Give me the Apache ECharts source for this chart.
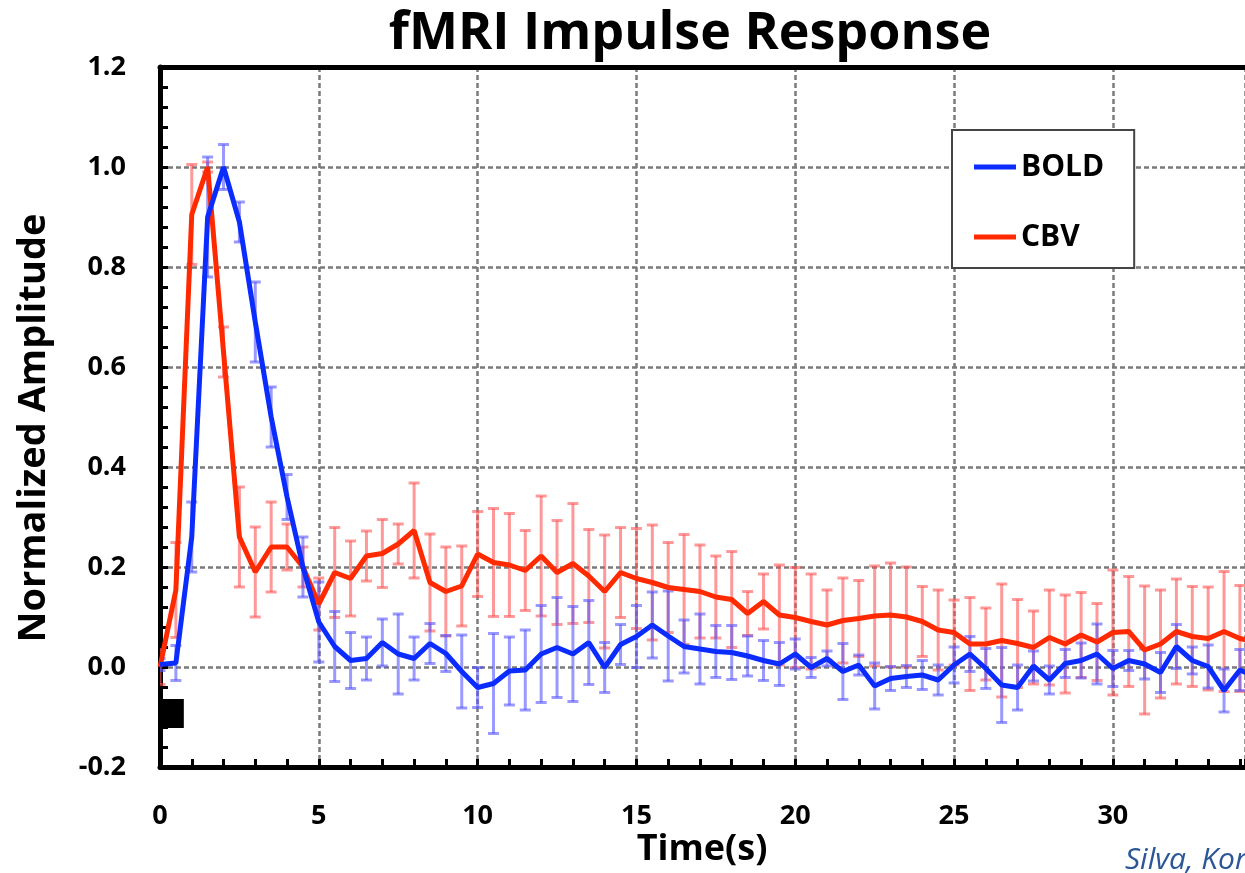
<!DOCTYPE html>
<html>
<head>
<meta charset="utf-8">
<script src="https://cdn.jsdelivr.net/npm/echarts@6/dist/echarts.min.js"></script>
<style>
html,body{margin:0;padding:0;background:#fff;}
#chart{width:1245px;height:873px;}
</style>
</head>
<body>
<div id="chart"></div>
<script>
// ---- data ----
const timeS = [0,0.5,1,1.5,2,2.5,3,3.5,4,4.5,5,5.5,6,6.5,7,7.5,8,8.5,9,9.5,10,10.5,11,11.5,12,12.5,13,13.5,14,14.5,15,15.5,16,16.5,17,17.5,18,18.5,19,19.5,20,20.5,21,21.5,22,22.5,23,23.5,24,24.5,25,25.5,26,26.5,27,27.5,28,28.5,29,29.5,30,30.5,31,31.5,32,32.5,33,33.5,34,34.5];

const boldMean = [0.005,0.008,0.26,0.90,1.00,0.89,0.69,0.50,0.34,0.20,0.09,0.041,0.013,0.017,0.049,0.026,0.017,0.047,0.027,-0.009,-0.041,-0.033,-0.008,-0.006,0.026,0.039,0.026,0.049,-0.001,0.045,0.061,0.084,0.062,0.041,0.036,0.031,0.029,0.022,0.013,0.006,0.026,-0.001,0.017,-0.009,0.004,-0.038,-0.023,-0.019,-0.016,-0.026,0.004,0.026,-0.003,-0.036,-0.041,0.002,-0.026,0.007,0.013,0.026,-0.003,0.013,0.006,-0.011,0.041,0.013,0.001,-0.047,-0.006,-0.02];

const boldErr = [0.012,0.035,0.07,0.12,0.045,0.04,0.08,0.06,0.045,0.06,0.08,0.07,0.056,0.043,0.047,0.08,0.043,0.04,0.036,0.073,0.04,0.1,0.068,0.08,0.097,0.1,0.095,0.084,0.05,0.04,0.062,0.066,0.09,0.053,0.07,0.052,0.054,0.04,0.04,0.043,0.03,0.02,0.015,0.056,0.02,0.046,0.024,0.022,0.029,0.03,0.036,0.035,0.04,0.075,0.045,0.03,0.028,0.028,0.035,0.06,0.036,0.02,0.03,0.04,0.044,0.027,0.043,0.043,0.041,0.04];

const cbvMean = [0.0,0.154,0.905,1.0,0.63,0.26,0.19,0.24,0.24,0.2,0.126,0.189,0.177,0.222,0.227,0.246,0.273,0.169,0.151,0.162,0.226,0.209,0.204,0.193,0.222,0.189,0.207,0.182,0.151,0.189,0.177,0.169,0.159,0.155,0.151,0.14,0.135,0.107,0.131,0.104,0.099,0.091,0.084,0.093,0.097,0.102,0.104,0.1,0.091,0.074,0.069,0.046,0.046,0.053,0.047,0.039,0.059,0.046,0.064,0.05,0.069,0.071,0.034,0.046,0.071,0.061,0.057,0.071,0.057,0.05];

const cbvErr = [0.035,0.095,0.1,0.01,0.05,0.1,0.09,0.09,0.046,0.04,0.052,0.09,0.075,0.05,0.068,0.04,0.095,0.097,0.089,0.08,0.085,0.108,0.103,0.08,0.12,0.104,0.12,0.093,0.113,0.09,0.1,0.115,0.09,0.11,0.093,0.082,0.096,0.044,0.055,0.1,0.1,0.095,0.07,0.085,0.076,0.1,0.104,0.1,0.07,0.08,0.065,0.093,0.072,0.113,0.088,0.073,0.095,0.098,0.085,0.077,0.125,0.11,0.128,0.108,0.105,0.1,0.103,0.12,0.106,0.1];

const stimulus = [[0, 0.75]];          // stimulus on/off (s)
const yTickLabels = ['-0.2','0.0','0.2','0.4','0.6','0.8','1.0','1.2'];
const xTickLabels = ['0','5','10','15','20','25','30'];

// ---- build ----
const boldLine = timeS.map((t,i)=>[t, boldMean[i]]);
const cbvLine = timeS.map((t,i)=>[t, cbvMean[i]]);
const boldBars = timeS.map((t,i)=>[t, boldMean[i]-boldErr[i], boldMean[i]+boldErr[i]]);
const cbvBars = timeS.map((t,i)=>[t, cbvMean[i]-cbvErr[i], cbvMean[i]+cbvErr[i]]);
const STIM_TOP = -0.064, STIM_BOTTOM = -0.122;

function errRender(color){
  return function(params, api){
    const x = api.value(0);
    const p1 = api.coord([x, api.value(2)]);
    const p2 = api.coord([x, api.value(1)]);
    const hw = 5.5;
    const st = {stroke: color, lineWidth: 3};
    return {type:'group', children:[
      {type:'line', shape:{x1:p1[0],y1:p1[1],x2:p2[0],y2:p2[1]}, style:st},
      {type:'line', shape:{x1:p1[0]-hw,y1:p1[1],x2:p1[0]+hw,y2:p1[1]}, style:st},
      {type:'line', shape:{x1:p2[0]-hw,y1:p2[1],x2:p2[0]+hw,y2:p2[1]}, style:st}
    ]};
  };
}

const FONT = '"Open Sans", "Liberation Sans", sans-serif';
const XMAX = 34.16;

const chart = echarts.init(document.getElementById('chart'), null, {renderer:'canvas'});
chart.setOption({
  animation:false,
  backgroundColor:'#fff',
  grid:{left:160, right:0, top:67, bottom:106, containLabel:false},
  xAxis:[{
    type:'value', min:0, max:XMAX, interval:5,
    axisLine:{show:true, onZero:false, lineStyle:{color:'#000', width:5}},
    axisTick:{show:true, inside:true, length:8, lineStyle:{color:'#000', width:3}},
    minorTick:{show:true, splitNumber:5, length:8, lineStyle:{color:'#000', width:3}},
    axisLabel:{show:true, margin:36, color:'#000', fontFamily:FONT, fontWeight:'bold', fontSize:27,
      showMaxLabel:false,
      formatter:function(v){ const s=String(Math.round(v)); return (Math.abs(v%5)<1e-6 && xTickLabels.indexOf(s)>=0)?s:''; }},
    splitLine:{show:true, lineStyle:{color:'#7a7a7a', width:2.5, type:[5,3]}}
  },{
    type:'value', position:'top', min:0, max:XMAX, interval:5,
    axisLine:{show:true, onZero:false, lineStyle:{color:'#000', width:5}},
    axisTick:{show:false}, axisLabel:{show:false}, splitLine:{show:false}
  }],
  yAxis:{
    type:'value', min:-0.2, max:1.2, interval:0.2,
    axisLine:{show:true, onZero:false, lineStyle:{color:'#000', width:5}},
    axisTick:{show:true, inside:true, length:8, lineStyle:{color:'#000', width:3}},
    minorTick:{show:true, splitNumber:5, length:8, lineStyle:{color:'#000', width:3}},
    axisLabel:{margin:34, color:'#000', fontFamily:FONT, fontWeight:'bold', fontSize:27,
      formatter:function(v){ const s=v.toFixed(1); return s==='-0.0'?'0.0':s; }},
    splitLine:{show:true, lineStyle:{color:'#7a7a7a', width:2.5, type:[5,3]}}
  },
  legend:{
    show:true, orient:'vertical', left:952, top:130,
    data:['BOLD','CBV'],
    backgroundColor:'#fff', borderColor:'#444', borderWidth:2,
    padding:[22,30,16,22], itemGap:40, itemWidth:42, itemHeight:5, icon:'rect',
    textStyle:{color:'#000', fontFamily:FONT, fontWeight:'bold', fontSize:30}
  },
  series:[
    {type:'custom', name:'cbvErr', renderItem:errRender('rgba(255,85,85,0.6)'), data:cbvBars, clip:true, z:2, silent:true},
    {type:'custom', name:'boldErr', renderItem:errRender('rgba(85,85,255,0.6)'), data:boldBars, clip:true, z:2, silent:true},
    {type:'custom', name:'stim', data:stimulus, z:3, silent:true,
      renderItem:function(params, api){
        const a = api.coord([api.value(0), STIM_TOP]);
        const b = api.coord([api.value(1), STIM_BOTTOM]);
        return {type:'rect', shape:{x:a[0], y:a[1], width:b[0]-a[0], height:b[1]-a[1]}, style:{fill:'#000'}};
      }},
    {type:'line', name:'CBV', data:cbvLine, showSymbol:false, symbol:'none', clip:true, z:5,
      lineStyle:{color:'#ff2a00', width:5}, itemStyle:{color:'#ff2a00'}},
    {type:'line', name:'BOLD', data:boldLine, showSymbol:false, symbol:'none', clip:true, z:6,
      lineStyle:{color:'#0a2cff', width:5}, itemStyle:{color:'#0a2cff'}}
  ],
  graphic:[
    {type:'text', z:10, x:690, y:34,
      style:{text:'fMRI Impulse Response', font:'bold 52px '+FONT, fill:'#000', align:'center', verticalAlign:'middle'}},
    {type:'text', z:10, x:702, y:850,
      style:{text:'Time(s)', font:'bold 36px '+FONT, fill:'#000', align:'center', verticalAlign:'middle'}},
    {type:'text', z:10, x:34, y:428, rotation:Math.PI/2,
      style:{text:'Normalized Amplitude', font:'bold 38px '+FONT, fill:'#000', align:'center', verticalAlign:'middle'}},
    {type:'text', z:10, x:1125, y:860,
      style:{text:'Silva, Koretsky', font:'italic 30px '+FONT, fill:'#2c5796', align:'left', verticalAlign:'middle'}}
  ]
});
</script>
</body>
</html>
